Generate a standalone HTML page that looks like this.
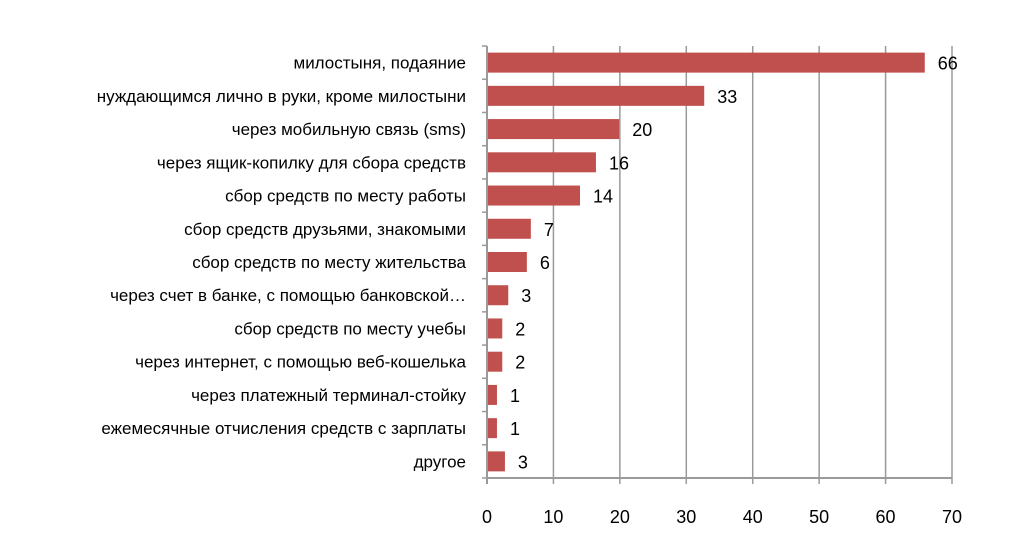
<!DOCTYPE html>
<html><head><meta charset="utf-8"><style>
html,body{margin:0;padding:0;background:#fff;width:1024px;height:547px;overflow:hidden}
text{font-family:"Liberation Sans",sans-serif;fill:#000}
</style></head><body>
<svg width="1024" height="547">
<g id="grid"></g><g id="bars"></g><g id="labels"></g>
</svg>
<script>
const categories=["милостыня, подаяние","нуждающимся лично в руки, кроме милостыни","через мобильную связь (sms)","через ящик-копилку для сбора средств","сбор средств по месту работы","сбор средств друзьями, знакомыми","сбор средств по месту жительства","через счет в банке, с помощью банковской…","сбор средств по месту учебы","через интернет, с помощью веб-кошелька","через платежный терминал-стойку","ежемесячные отчисления средств с зарплаты","другое"];
const values=[65.9,32.7,19.9,16.4,14,6.6,6.0,3.2,2.3,2.3,1.5,1.5,2.7];
const valueLabels=["66","33","20","16","14","7","6","3","2","2","1","1","3"];
const ticks=[0,10,20,30,40,50,60,70];
const NS="http://www.w3.org/2000/svg";
const x0=487,x1=952,yTop=46,yBot=478;
const xs=v=>x0+(v-0)/(70-0)*(x1-x0);
const band=(yBot-yTop)/categories.length;
const yc=i=>yTop+band*(i+0.5);
function mk(tag,attrs,parent,txt){const e=document.createElementNS(NS,tag);for(const k in attrs)e.setAttribute(k,attrs[k]);if(txt!==undefined)e.textContent=txt;document.getElementById(parent).appendChild(e);return e;}
ticks.forEach(t=>{
 const l=mk('line',{x1:xs(t),x2:xs(t),y1:yTop,y2:yBot+6,stroke:'#9a9a9a','stroke-width':t===0?2:1.5},'grid');
 
 
 const tx=mk('text',{x:xs(t),y:yBot+45,'text-anchor':'middle','font-size':18},'labels',String(t));
 
 
});
const ax=mk('line',{x1:x0,x2:x1,y1:yBot,y2:yBot,stroke:'#9a9a9a','stroke-width':2},'grid');


for(let i=0;i<=categories.length;i++){
 const t=mk('line',{x1:x0-5,x2:x0,y1:yTop+band*i,y2:yTop+band*i,stroke:'#9a9a9a','stroke-width':1.5},'grid');
 
 
}
categories.forEach((c,i)=>{
 const b=mk('rect',{x:x0+1,y:yc(i)-10,width:xs(values[i])-x0-1,height:20,fill:'#c0504d'},'bars');
 
 
 const l=mk('text',{x:466,y:yc(i)+6,'text-anchor':'end','font-size':17},'labels',c);
 
 
 const v=mk('text',{x:xs(values[i])+13,y:yc(i)+7,'font-size':18},'labels',valueLabels[i]);
 
 
});
</script>
</body></html>
